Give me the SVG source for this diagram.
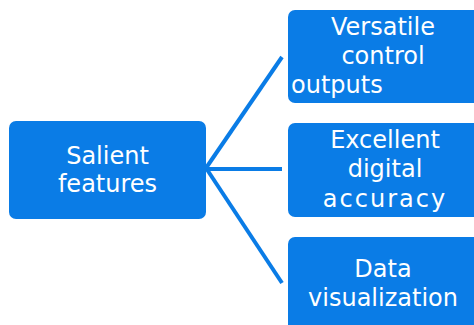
<svg xmlns="http://www.w3.org/2000/svg" width="474" height="325" viewBox="0 0 474 325">
<style>
.box{fill:#0a7ce6}
.t{fill:#fff;font-family:"DejaVu Sans",Verdana,sans-serif;font-size:24px;text-anchor:middle}
.c{stroke:#0a7ce6;stroke-width:4;fill:none}
</style>
<rect width="474" height="325" fill="#fff"/>
<g id="connectors">
<line class="c" x1="206" y1="168" x2="282" y2="57"/>
<line class="c" x1="206" y1="169" x2="282" y2="169"/>
<line class="c" x1="206" y1="168" x2="282" y2="283"/>
</g>
<g id="salient">
<rect class="box" x="9" y="121" width="197" height="98" rx="7"/>
<text class="t" x="107.5" y="164">Salient</text>
<text class="t" x="107.5" y="192">features</text>
</g>
<g id="versatile">
<rect class="box" x="288" y="10" width="200" height="93" rx="7"/>
<text class="t" x="383" y="35">Versatile</text>
<text class="t" x="383" y="64">control</text>
<text class="t" x="291" y="93" style="text-anchor:start">outputs</text>
</g>
<g id="excellent">
<rect class="box" x="288" y="123" width="200" height="94" rx="7"/>
<text class="t" x="385" y="148">Excellent</text>
<text class="t" x="385" y="177">digital</text>
<text class="t" x="385" y="207" letter-spacing="2">accuracy</text>
</g>
<g id="data">
<rect class="box" x="288" y="237" width="200" height="100" rx="7"/>
<text class="t" x="383" y="277">Data</text>
<text class="t" x="383" y="306">visualization</text>
</g>
</svg>
